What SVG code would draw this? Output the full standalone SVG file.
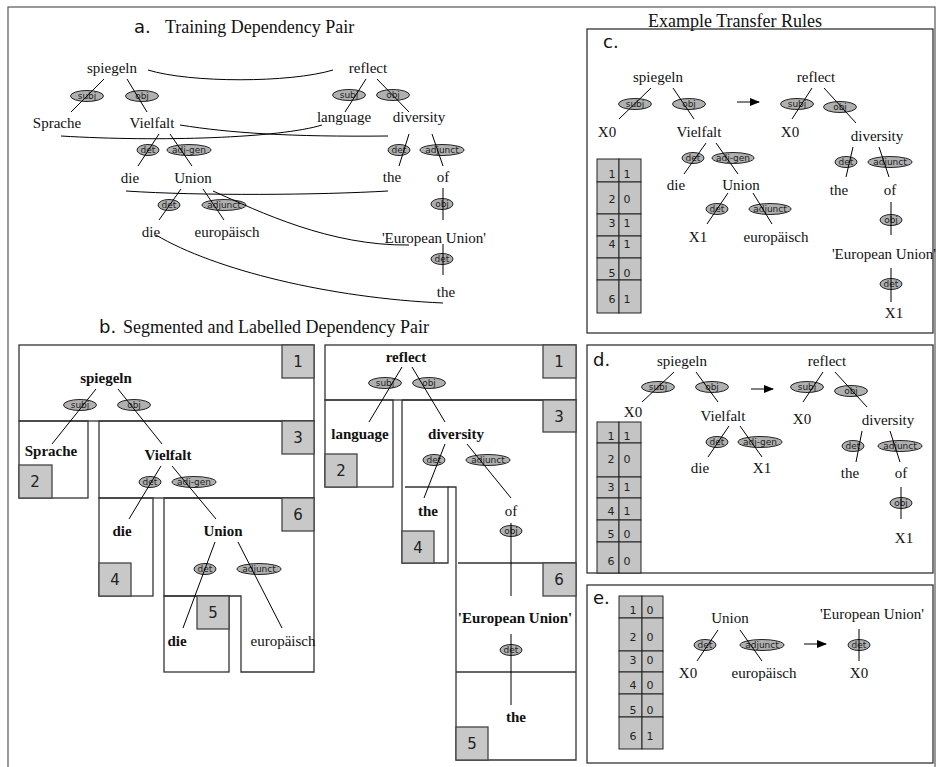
<svg xmlns="http://www.w3.org/2000/svg" width="936" height="767" viewBox="0 0 936 767">
<defs>
<marker id="ah" markerWidth="10" markerHeight="8" refX="9" refY="4" orient="auto" markerUnits="userSpaceOnUse">
<path d="M0,0 L10,4 L0,8 z" fill="#000"/>
</marker>
<style>
.t{font-family:"Liberation Serif","Times New Roman",serif;font-size:15px;fill:#111;text-anchor:middle}
.bd{font-weight:bold}
.ttl{font-family:"Liberation Serif","Times New Roman",serif;font-size:18px;fill:#111}
.pl{font-family:"DejaVu Sans","Liberation Sans",sans-serif;font-size:18px;fill:#111}
.el{fill:#b0b0b0;stroke:#222;stroke-width:1}
.lb{font-family:"DejaVu Sans","Liberation Sans",sans-serif;font-size:9px;fill:#222;text-anchor:middle}
.ln{stroke:#000;stroke-width:1;fill:none}
.box{fill:none;stroke:#333;stroke-width:1.3}
.frame{fill:none;stroke:#555;stroke-width:1.2}
.sq{fill:#c8c8c8;stroke:#444;stroke-width:1.3}
.num{font-family:"DejaVu Sans","Liberation Sans",sans-serif;font-size:15px;fill:#222;text-anchor:middle}
.cell{fill:#c4c4c4;stroke:#222;stroke-width:1}
.tn{font-family:"DejaVu Sans","Liberation Sans",sans-serif;font-size:11px;fill:#222;text-anchor:middle}
</style>
</defs>
<rect x="0" y="0" width="936" height="767" fill="#fff"/>
<rect class="frame" x="8" y="7" width="927" height="775"/>

<!-- titles -->
<text class="pl" x="134" y="33" font-size="17">a.</text>
<text class="ttl" x="165" y="33">Training Dependency Pair</text>
<text class="pl" x="99" y="333" font-size="17">b.</text>
<text class="ttl" x="123" y="333">Segmented and Labelled Dependency Pair</text>
<text class="ttl" x="735" y="27" text-anchor="middle">Example Transfer Rules</text>

<!-- ===== Panel a ===== -->
<g id="panel-a">
<g id="a-nodes">
<g id="a-spiegeln"><text class="t" x="112" y="73">spiegeln</text></g>
<g id="a-reflect"><text class="t" x="368" y="73">reflect</text></g>
<g id="a-sprache"><text class="t" x="57" y="128">Sprache</text></g>
<g id="a-vielfalt"><text class="t" x="152" y="128">Vielfalt</text></g>
<g id="a-language"><text class="t" x="344" y="122">language</text></g>
<g id="a-diversity"><text class="t" x="419" y="122">diversity</text></g>
<g id="a-die1"><text class="t" x="130" y="183">die</text></g>
<g id="a-union"><text class="t" x="193" y="183">Union</text></g>
<g id="a-the1"><text class="t" x="392" y="182">the</text></g>
<g id="a-of"><text class="t" x="443" y="182">of</text></g>
<g id="a-die2"><text class="t" x="151" y="237">die</text></g>
<g id="a-europaeisch"><text class="t" x="227" y="237">europäisch</text></g>
<g id="a-eu"><text class="t" x="434" y="243">'European Union'</text></g>
<g id="a-the2"><text class="t" x="446" y="297">the</text></g>
</g>
<g id="a-labels">
<ellipse class="el" cx="87" cy="96" rx="16.5" ry="5.5"/><text class="lb" x="87" y="99">subj</text>
<ellipse class="el" cx="142" cy="96" rx="16.5" ry="5.5"/><text class="lb" x="142" y="99">obj</text>
<ellipse class="el" cx="349" cy="95" rx="16.5" ry="5.5"/><text class="lb" x="349" y="98">subj</text>
<ellipse class="el" cx="393" cy="95" rx="16.5" ry="5.5"/><text class="lb" x="393" y="98">obj</text>
<ellipse class="el" cx="148" cy="150" rx="11" ry="5.5"/><text class="lb" x="148" y="153">det</text>
<ellipse class="el" cx="189" cy="150" rx="22" ry="5.5"/><text class="lb" x="189" y="153">adj-gen</text>
<ellipse class="el" cx="399" cy="150" rx="11" ry="5.5"/><text class="lb" x="399" y="153">det</text>
<ellipse class="el" cx="442" cy="150" rx="22" ry="5.5"/><text class="lb" x="442" y="153">adjunct</text>
<ellipse class="el" cx="169" cy="205" rx="11" ry="5.5"/><text class="lb" x="169" y="208">det</text>
<ellipse class="el" cx="224" cy="205" rx="22" ry="5.5"/><text class="lb" x="224" y="208">adjunct</text>
<ellipse class="el" cx="442" cy="204" rx="11" ry="5.5"/><text class="lb" x="442" y="207">obj</text>
<ellipse class="el" cx="442" cy="259" rx="11" ry="5.5"/><text class="lb" x="442" y="262">det</text>
</g>
<g id="a-connectors">
<path class="ln" d="M104,79 L71,112 M127,79 L147,112 M366,79 L345,112 M377,79 L409,112"/>
<path class="ln" d="M159,134 L138,166 M170,134 L192,166 M409,134 L399,166 M432,134 L443,166"/>
<path class="ln" d="M181,189 L159,220 M203,189 L224,220 M443,188 L443,220 M443,244 L443,275"/>
<path class="ln" d="M148,70 C190,83 290,83 333,70"/>
<path class="ln" d="M61,136 C160,142 280,138 322,125"/>
<path class="ln" d="M180,125 C230,133 290,137 388,136"/>
<path class="ln" d="M126,191 C200,196 320,195 388,191"/>
<path class="ln" d="M213,191 C260,212 330,246 409,245"/>
<path class="ln" d="M156,235 C215,270 330,298 443,303"/>
</g>
</g>

<!-- ===== Panel b ===== -->
<g id="panel-b">
<g id="b-segments">
<rect class="box" x="19" y="345" width="295" height="76"/>
<rect class="box" x="19" y="421" width="69" height="77"/>
<rect class="box" x="99" y="421" width="215" height="77"/>
<rect class="box" x="99" y="498" width="54" height="98"/>
<path class="box" d="M164,498 L314,498 L314,672 L241,672 L241,596 L164,596 Z"/>
<rect class="box" x="164" y="596" width="65" height="76"/>
<rect class="box" x="325" y="345" width="251" height="55"/>
<rect class="box" x="325" y="400" width="68" height="87"/>
<path class="box" d="M402,400 L576,400 L576,760 L456,760 L456,487 L448,487"/>
<path class="box" d="M402,400 L402,563 L448,563 L448,487 L405,487"/>
<path class="box" d="M458,563 L576,563 M456,672 L576,672"/>
<rect class="sq" x="282" y="345" width="32" height="33"/><text class="num" x="298" y="367">1</text>
<rect class="sq" x="19" y="465" width="33" height="33"/><text class="num" x="35" y="487">2</text>
<rect class="sq" x="282" y="421" width="32" height="33"/><text class="num" x="298" y="443">3</text>
<rect class="sq" x="99" y="563" width="32" height="33"/><text class="num" x="115" y="585">4</text>
<rect class="sq" x="197" y="596" width="32" height="33"/><text class="num" x="213" y="618">5</text>
<rect class="sq" x="282" y="498" width="32" height="33"/><text class="num" x="298" y="520">6</text>
<rect class="sq" x="543" y="345" width="33" height="33"/><text class="num" x="559" y="367">1</text>
<rect class="sq" x="325" y="454" width="32" height="33"/><text class="num" x="341" y="476">2</text>
<rect class="sq" x="543" y="400" width="33" height="32"/><text class="num" x="559" y="422">3</text>
<rect class="sq" x="402" y="531" width="32" height="32"/><text class="num" x="418" y="553">4</text>
<rect class="sq" x="456" y="727" width="32" height="33"/><text class="num" x="472" y="749">5</text>
<rect class="sq" x="543" y="563" width="33" height="33"/><text class="num" x="559" y="585">6</text>
</g>
<g id="b-nodes">
<g id="b-spiegeln"><text class="t bd" x="106" y="383">spiegeln</text></g>
<g id="b-sprache"><text class="t bd" x="51" y="456">Sprache</text></g>
<g id="b-vielfalt"><text class="t bd" x="168" y="460">Vielfalt</text></g>
<g id="b-die1"><text class="t bd" x="122" y="536">die</text></g>
<g id="b-union"><text class="t bd" x="223" y="536">Union</text></g>
<g id="b-die2"><text class="t bd" x="177" y="646">die</text></g>
<g id="b-europaeisch"><text class="t" x="283" y="646">europäisch</text></g>
<g id="b-reflect"><text class="t bd" x="406" y="362">reflect</text></g>
<g id="b-language"><text class="t bd" x="360" y="439">language</text></g>
<g id="b-diversity"><text class="t bd" x="456" y="439">diversity</text></g>
<g id="b-the1"><text class="t bd" x="428" y="516">the</text></g>
<g id="b-of"><text class="t" x="511" y="516">of</text></g>
<g id="b-eu"><text class="t bd" x="515" y="623">'European Union'</text></g>
<g id="b-the2"><text class="t bd" x="516" y="722">the</text></g>
</g>
<g id="b-labels">
<ellipse class="el" cx="80" cy="405" rx="16.5" ry="5.5"/><text class="lb" x="80" y="408">subj</text>
<ellipse class="el" cx="134" cy="405" rx="16.5" ry="5.5"/><text class="lb" x="134" y="408">obj</text>
<ellipse class="el" cx="150" cy="482" rx="11" ry="5.5"/><text class="lb" x="150" y="485">det</text>
<ellipse class="el" cx="194" cy="482" rx="22" ry="5.5"/><text class="lb" x="194" y="485">adj-gen</text>
<ellipse class="el" cx="205" cy="569" rx="11" ry="5.5"/><text class="lb" x="205" y="572">det</text>
<ellipse class="el" cx="259" cy="569" rx="22" ry="5.5"/><text class="lb" x="259" y="572">adjunct</text>
<ellipse class="el" cx="385" cy="383" rx="16.5" ry="5.5"/><text class="lb" x="385" y="386">subj</text>
<ellipse class="el" cx="429" cy="383" rx="16.5" ry="5.5"/><text class="lb" x="429" y="386">obj</text>
<ellipse class="el" cx="434" cy="460" rx="11" ry="5.5"/><text class="lb" x="434" y="463">det</text>
<ellipse class="el" cx="488" cy="460" rx="22" ry="5.5"/><text class="lb" x="488" y="463">adjunct</text>
<ellipse class="el" cx="511" cy="531" rx="11" ry="5.5"/><text class="lb" x="511" y="534">obj</text>
<ellipse class="el" cx="511" cy="650" rx="11" ry="5.5"/><text class="lb" x="511" y="653">det</text>
</g>
<g id="b-connectors">
<path class="ln" d="M96,389 L52,444 M118,389 L162,444 M161,466 L129,519 M172,466 L216,519 M215,542 L183,628 M238,542 L282,628"/>
<path class="ln" d="M402,367 L369,422 M412,367 L445,422 M445,444 L424,498 M467,444 L511,498 M511,523 L511,596 M511,634 L511,705"/>
</g>
</g>

<!-- ===== Panel c ===== -->
<g id="panel-c">
<rect class="box" x="587" y="29" width="346" height="304"/>
<text class="pl" x="603" y="48">c.</text>
<g id="c-table">
<rect class="cell" x="597" y="159" width="22" height="23"/><rect class="cell" x="619" y="159" width="22" height="23"/>
<rect class="cell" x="597" y="182" width="22" height="32"/><rect class="cell" x="619" y="182" width="22" height="32"/>
<rect class="cell" x="597" y="214" width="22" height="22"/><rect class="cell" x="619" y="214" width="22" height="22"/>
<rect class="cell" x="597" y="236" width="22" height="22"/><rect class="cell" x="619" y="236" width="22" height="22"/>
<rect class="cell" x="597" y="258" width="22" height="22"/><rect class="cell" x="619" y="258" width="22" height="22"/>
<rect class="cell" x="597" y="280" width="22" height="33"/><rect class="cell" x="619" y="280" width="22" height="33"/>
<text class="tn" x="612" y="178">1</text><text class="tn" x="627" y="178">1</text>
<text class="tn" x="612" y="203">2</text><text class="tn" x="627" y="203">0</text>
<text class="tn" x="612" y="227">3</text><text class="tn" x="627" y="227">1</text>
<text class="tn" x="612" y="248">4</text><text class="tn" x="627" y="248">1</text>
<text class="tn" x="612" y="277">5</text><text class="tn" x="627" y="277">0</text>
<text class="tn" x="612" y="303">6</text><text class="tn" x="627" y="303">1</text>
</g>
<g id="c-nodes">
<g id="c-spiegeln"><text class="t" x="658" y="82">spiegeln</text></g>
<g id="c-x0"><text class="t" x="607" y="137">X0</text></g>
<g id="c-vielfalt"><text class="t" x="699" y="137">Vielfalt</text></g>
<g id="c-die"><text class="t" x="676" y="190">die</text></g>
<g id="c-union"><text class="t" x="741" y="190">Union</text></g>
<g id="c-x1"><text class="t" x="698" y="242">X1</text></g>
<g id="c-europaeisch"><text class="t" x="776" y="242">europäisch</text></g>
<g id="c-reflect"><text class="t" x="816" y="82">reflect</text></g>
<g id="c-x0r"><text class="t" x="790" y="137">X0</text></g>
<g id="c-diversity"><text class="t" x="877" y="141">diversity</text></g>
<g id="c-the"><text class="t" x="839" y="195">the</text></g>
<g id="c-of"><text class="t" x="890" y="195">of</text></g>
<g id="c-eu"><text class="t" x="884" y="259">'European Union'</text></g>
<g id="c-x1r"><text class="t" x="894" y="318">X1</text></g>
</g>
<g id="c-labels">
<ellipse class="el" cx="635" cy="104" rx="16.5" ry="5.5"/><text class="lb" x="635" y="107">subj</text>
<ellipse class="el" cx="689" cy="104" rx="16.5" ry="5.5"/><text class="lb" x="689" y="107">obj</text>
<ellipse class="el" cx="693" cy="158" rx="11" ry="5.5"/><text class="lb" x="693" y="161">det</text>
<ellipse class="el" cx="733" cy="158" rx="21" ry="5.5"/><text class="lb" x="733" y="161">adj-gen</text>
<ellipse class="el" cx="717" cy="209" rx="11" ry="5.5"/><text class="lb" x="717" y="212">det</text>
<ellipse class="el" cx="770" cy="209" rx="21" ry="5.5"/><text class="lb" x="770" y="212">adjunct</text>
<ellipse class="el" cx="797" cy="104" rx="16.5" ry="5.5"/><text class="lb" x="797" y="107">subj</text>
<ellipse class="el" cx="840" cy="107" rx="16.5" ry="5.5"/><text class="lb" x="840" y="110">obj</text>
<ellipse class="el" cx="846" cy="162" rx="11" ry="5.5"/><text class="lb" x="846" y="165">det</text>
<ellipse class="el" cx="890" cy="162" rx="22" ry="5.5"/><text class="lb" x="890" y="165">adjunct</text>
<ellipse class="el" cx="891" cy="220" rx="11" ry="5.5"/><text class="lb" x="891" y="223">obj</text>
<ellipse class="el" cx="891" cy="284" rx="11" ry="5.5"/><text class="lb" x="891" y="287">det</text>
</g>
<g id="c-connectors">
<path class="ln" d="M651,88 L619,119 M673,88 L694,119 M706,143 L684,174 M716,143 L738,174 M728,193 L707,224 M753,193 L772,224"/>
<path class="ln" d="M812,88 L792,119 M824,88 L856,123 M853,147 L846,177 M879,147 L889,177 M891,202 L891,235 M891,268 L891,302"/>
<path class="ln" d="M737,102 L759,102" marker-end="url(#ah)"/>
</g>
</g>

<!-- ===== Panel d ===== -->
<g id="panel-d">
<rect class="box" x="587" y="345" width="346" height="228"/>
<text class="pl" x="593" y="366" font-size="19">d.</text>
<g id="d-table">
<rect class="cell" x="597" y="422" width="22" height="21"/><rect class="cell" x="619" y="422" width="22" height="21"/>
<rect class="cell" x="597" y="443" width="22" height="34"/><rect class="cell" x="619" y="443" width="22" height="34"/>
<rect class="cell" x="597" y="477" width="22" height="21"/><rect class="cell" x="619" y="477" width="22" height="21"/>
<rect class="cell" x="597" y="498" width="22" height="22"/><rect class="cell" x="619" y="498" width="22" height="22"/>
<rect class="cell" x="597" y="520" width="22" height="22"/><rect class="cell" x="619" y="520" width="22" height="22"/>
<rect class="cell" x="597" y="542" width="22" height="31"/><rect class="cell" x="619" y="542" width="22" height="31"/>
<text class="tn" x="611" y="440">1</text><text class="tn" x="627" y="440">1</text>
<text class="tn" x="611" y="463">2</text><text class="tn" x="627" y="463">0</text>
<text class="tn" x="611" y="491">3</text><text class="tn" x="627" y="491">1</text>
<text class="tn" x="611" y="515">4</text><text class="tn" x="627" y="515">1</text>
<text class="tn" x="611" y="538">5</text><text class="tn" x="627" y="538">0</text>
<text class="tn" x="611" y="565">6</text><text class="tn" x="627" y="565">0</text>
</g>
<g id="d-nodes">
<g id="d-spiegeln"><text class="t" x="682" y="366">spiegeln</text></g>
<g id="d-x0"><text class="t" x="633" y="417">X0</text></g>
<g id="d-vielfalt"><text class="t" x="723" y="421">Vielfalt</text></g>
<g id="d-die"><text class="t" x="700" y="473">die</text></g>
<g id="d-x1"><text class="t" x="762" y="473">X1</text></g>
<g id="d-reflect"><text class="t" x="827" y="366">reflect</text></g>
<g id="d-x0r"><text class="t" x="802" y="424">X0</text></g>
<g id="d-diversity"><text class="t" x="888" y="425">diversity</text></g>
<g id="d-the"><text class="t" x="850" y="478">the</text></g>
<g id="d-of"><text class="t" x="901" y="478">of</text></g>
<g id="d-x1r"><text class="t" x="904" y="543">X1</text></g>
</g>
<g id="d-labels">
<ellipse class="el" cx="658" cy="387" rx="16.5" ry="5.5"/><text class="lb" x="658" y="390">subj</text>
<ellipse class="el" cx="712" cy="387" rx="16.5" ry="5.5"/><text class="lb" x="712" y="390">obj</text>
<ellipse class="el" cx="717" cy="442" rx="11" ry="5.5"/><text class="lb" x="717" y="445">det</text>
<ellipse class="el" cx="760" cy="442" rx="22" ry="5.5"/><text class="lb" x="760" y="445">adj-gen</text>
<ellipse class="el" cx="807" cy="387" rx="16.5" ry="5.5"/><text class="lb" x="807" y="390">subj</text>
<ellipse class="el" cx="851" cy="391" rx="16.5" ry="5.5"/><text class="lb" x="851" y="394">obj</text>
<ellipse class="el" cx="853" cy="446" rx="11" ry="5.5"/><text class="lb" x="853" y="449">det</text>
<ellipse class="el" cx="900" cy="446" rx="22" ry="5.5"/><text class="lb" x="900" y="449">adjunct</text>
<ellipse class="el" cx="901" cy="503" rx="11" ry="5.5"/><text class="lb" x="901" y="506">obj</text>
</g>
<g id="d-connectors">
<path class="ln" d="M674,372 L642,402 M696,372 L718,402 M729,426 L708,457 M740,426 L762,457"/>
<path class="ln" d="M823,372 L803,402 M835,372 L867,407 M862,431 L856,462 M890,431 L900,462 M901,487 L901,519"/>
<path class="ln" d="M751,389 L773,389" marker-end="url(#ah)"/>
</g>
</g>

<!-- ===== Panel e ===== -->
<g id="panel-e">
<rect class="box" x="587" y="585" width="346" height="178"/>
<text class="pl" x="593" y="604" font-size="19">e.</text>
<g id="e-table">
<rect class="cell" x="619" y="596" width="23" height="22"/><rect class="cell" x="642" y="596" width="21" height="22"/>
<rect class="cell" x="619" y="618" width="23" height="33"/><rect class="cell" x="642" y="618" width="21" height="33"/>
<rect class="cell" x="619" y="651" width="23" height="21"/><rect class="cell" x="642" y="651" width="21" height="21"/>
<rect class="cell" x="619" y="672" width="23" height="22"/><rect class="cell" x="642" y="672" width="21" height="22"/>
<rect class="cell" x="619" y="694" width="23" height="23"/><rect class="cell" x="642" y="694" width="21" height="23"/>
<rect class="cell" x="619" y="717" width="23" height="32"/><rect class="cell" x="642" y="717" width="21" height="32"/>
<text class="tn" x="633" y="614">1</text><text class="tn" x="650" y="614">0</text>
<text class="tn" x="633" y="641">2</text><text class="tn" x="650" y="641">0</text>
<text class="tn" x="633" y="664">3</text><text class="tn" x="650" y="664">0</text>
<text class="tn" x="633" y="689">4</text><text class="tn" x="650" y="689">0</text>
<text class="tn" x="633" y="714">5</text><text class="tn" x="650" y="714">0</text>
<text class="tn" x="633" y="740">6</text><text class="tn" x="650" y="740">1</text>
</g>
<g id="e-nodes">
<g id="e-union"><text class="t" x="730" y="623">Union</text></g>
<g id="e-x0"><text class="t" x="688" y="678">X0</text></g>
<g id="e-europaeisch"><text class="t" x="764" y="678">europäisch</text></g>
<g id="e-eu"><text class="t" x="872" y="619">'European Union'</text></g>
<g id="e-x0r"><text class="t" x="859" y="678">X0</text></g>
</g>
<g id="e-labels">
<ellipse class="el" cx="705" cy="645" rx="11" ry="5.5"/><text class="lb" x="705" y="648">det</text>
<ellipse class="el" cx="762" cy="645" rx="22" ry="5.5"/><text class="lb" x="762" y="648">adjunct</text>
<ellipse class="el" cx="859" cy="645" rx="11" ry="5.5"/><text class="lb" x="859" y="648">det</text>
</g>
<g id="e-connectors">
<path class="ln" d="M718,630 L697,661 M740,630 L762,661 M859,629 L859,661"/>
<path class="ln" d="M804,644 L826,644" marker-end="url(#ah)"/>
</g>
</g>
</svg>
